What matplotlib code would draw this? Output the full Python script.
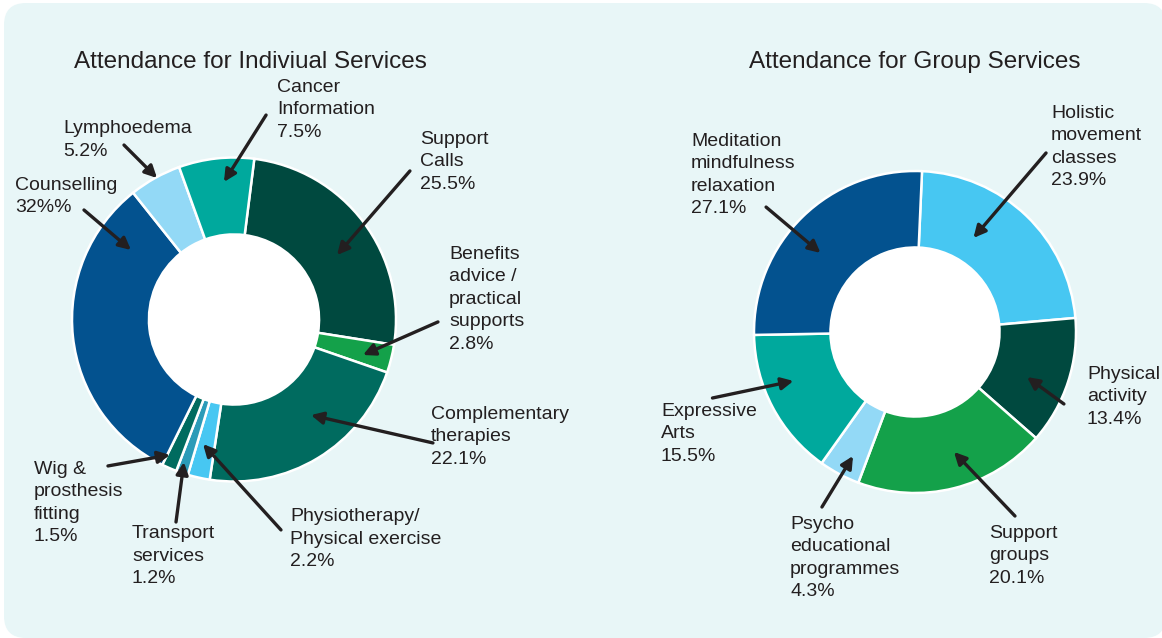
#!/usr/bin/env python3

import matplotlib
matplotlib.use('Agg')
import matplotlib.pyplot as plt  # type: ignore
from matplotlib.patches import FancyBboxPatch, Circle  # type: ignore

plt.rcParams['font.family'] = ['Liberation Sans', 'DejaVu Sans']

# Individual services, clockwise from the top
indiv_names = ['Support\nCalls', 'Benefits\nadvice /\npractical\nsupports',
               'Complementary\ntherapies', 'Physiotherapy/\nPhysical exercise',
               'Transport\nservices', 'Wig &\nprosthesis\nfitting',
               'Counselling', 'Lymphoedema', 'Cancer\nInformation']
indiv_values = [25.5, 2.8, 22.1, 2.2, 1.2, 1.5, 32, 5.2, 7.5]
indiv_pct = ['25.5%', '2.8%', '22.1%', '2.2%', '1.2%', '1.5%', '32%%', '5.2%', '7.5%']

# Group services, clockwise from the top
group_names = ['Holistic\nmovement\nclasses', 'Physical\nactivity',
               'Support\ngroups', 'Psycho\neducational\nprogrammes',
               'Expressive\nArts', 'Meditation\nmindfulness\nrelaxation']
group_values = [23.9, 13.4, 20.1, 4.3, 15.5, 27.1]
group_pct = ['23.9%', '13.4%', '20.1%', '4.3%', '15.5%', '27.1%']

INK = '#231f20'
PANEL = '#e8f6f7'
indiv_colors = ['#00493f', '#14a14a', '#006b5f', '#47c7f2', '#2b9bb8',
                '#006b5f', '#03528f', '#93d9f6', '#00a99d']
group_colors = ['#47c7f2', '#00493f', '#14a14a', '#93d9f6', '#00a99d', '#03528f']

# label top-left corner and arrow (tail, head) in donut units (radius = 1)
indiv_layout = [
    ((1.148, 1.164), (1.086, 0.917), (0.636, 0.398)),
    ((1.327, 0.454), (1.259, -0.015), (0.796, -0.219)),
    ((1.216, -0.534), (1.228, -0.762), (0.475, -0.590)),
    ((0.346, -1.164), (0.290, -1.299), (-0.191, -0.769)),
    ((-0.630, -1.269), (-0.358, -1.250), (-0.309, -0.880)),
    ((-1.235, -0.873), (-0.778, -0.904), (-0.395, -0.836)),
    ((-1.352, 0.880), (-0.926, 0.676), (-0.636, 0.429)),
    ((-1.056, 1.231), (-0.679, 1.077), (-0.475, 0.873)),
    ((0.265, 1.485), (0.198, 1.262), (-0.062, 0.849)),
]
group_layout = [
    ((0.845, 1.410), (0.814, 1.112), (0.363, 0.584)),
    ((1.068, -0.211), (0.925, -0.447), (0.696, -0.280)),
    ((0.460, -1.199), (0.621, -1.143), (0.242, -0.745)),
    ((-0.776, -1.143), (-0.578, -1.087), (-0.385, -0.770)),
    ((-1.578, -0.441), (-1.258, -0.410), (-0.755, -0.304)),
    ((-1.391, 1.236), (-0.925, 0.776), (-0.587, 0.491)),
]

W, H = 1162, 638
HOLE = 0.525


def draw_donut(fig, cx, cy, r, values, colors, names, pcts, layout, start):
    ax = fig.add_axes([(cx - r) / W, (H - cy - r) / H, 2 * r / W, 2 * r / H])
    ax.pie(values, colors=colors, startangle=start, counterclock=False,
           wedgeprops=dict(width=1 - HOLE, edgecolor='white', linewidth=1.8))
    ax.add_patch(Circle((0, 0), HOLE, facecolor='white', edgecolor='none', zorder=3))
    ax.set_xlim(-1, 1)
    ax.set_ylim(-1, 1)
    ax.axis('off')
    for name, pct, (txt, tail, head) in zip(names, pcts, layout):
        ax.text(txt[0], txt[1], name + '\n' + pct, ha='left', va='top',
                fontsize=14, color=INK, linespacing=1.42, clip_on=False)
        ax.annotate('', xy=head, xytext=tail, annotation_clip=False,
                    arrowprops=dict(arrowstyle='-|>', color=INK, lw=2.4,
                                    mutation_scale=18, shrinkA=0, shrinkB=0),
                    zorder=5)
    return ax


fig = plt.figure(figsize=(W / 100, H / 100), dpi=100)
fig.patch.set_facecolor('white')

bg = fig.add_axes([0, 0, 1, 1])
bg.set_xlim(0, W)
bg.set_ylim(H, 0)
bg.axis('off')
bg.add_patch(FancyBboxPatch((4, 3), 1162, 635, boxstyle='round,pad=0,rounding_size=22',
                            facecolor=PANEL, edgecolor='none'))
bg.text(74, 68, 'Attendance for Indiviual Services', fontsize=17.5, color=INK,
        ha='left', va='baseline')
bg.text(749, 68, 'Attendance for Group Services', fontsize=17.5, color=INK,
        ha='left', va='baseline')

draw_donut(fig, 234, 319.5, 162, indiv_values, indiv_colors, indiv_names,
           indiv_pct, indiv_layout, 82.8)
draw_donut(fig, 915, 332, 161, group_values, group_colors, group_names,
           group_pct, group_layout, 87.5)

fig.savefig('out.png', dpi=100)
